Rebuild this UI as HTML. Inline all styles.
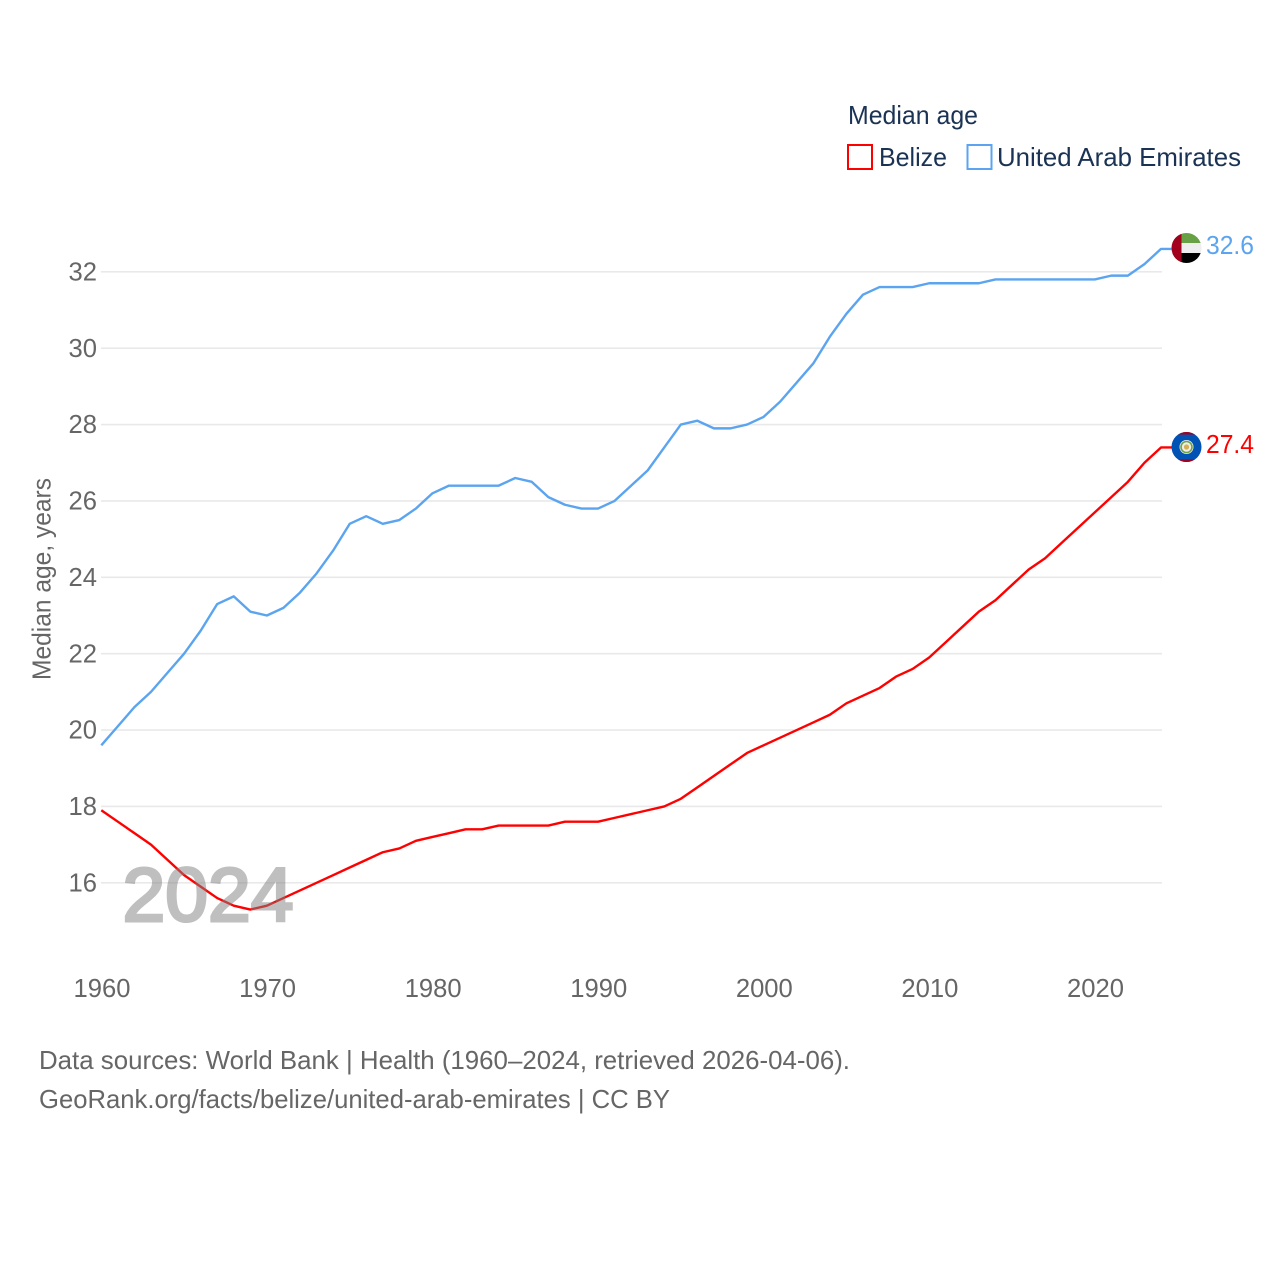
<!DOCTYPE html>
<html lang="en">
<head>
<meta charset="utf-8">
<title>Median age: Belize and United Arab Emirates</title>
<style>
html,body{margin:0;padding:0;background:#fff;width:1280px;height:1280px;overflow:hidden}
svg{display:block}
text{font-family:"Liberation Sans",sans-serif}
</style>
</head>
<body>
<svg id="chart" xmlns="http://www.w3.org/2000/svg" width="1280" height="1280" viewBox="0 0 1280 1280">
  <defs>
    <clipPath id="uae-clip"><circle cx="1186.5" cy="248" r="15"/></clipPath>
    <clipPath id="blz-clip"><circle cx="1186.5" cy="447" r="15"/></clipPath>
  </defs>
  <rect x="0" y="0" width="1280" height="1280" fill="#ffffff"/>
  <g id="grid"></g>
  <g id="yticks"></g>
  <g id="xticks"></g>
  <text transform="translate(50.5,680) rotate(-90)" font-size="25.6" fill="#666666" textLength="202" lengthAdjust="spacingAndGlyphs">Median age, years</text>
  <g id="series"></g>
  <text x="122.5" y="921" font-size="76" fill="#808080" stroke="#808080" stroke-width="3" opacity="0.5" textLength="171" lengthAdjust="spacingAndGlyphs">2024</text>

  <g>
    <text x="848" y="124" font-size="25.6" fill="#1a3254" textLength="130" lengthAdjust="spacingAndGlyphs">Median age</text>
    <g>
      <rect x="848" y="145" width="24" height="24" fill="#ffffff" stroke="#ff0000" stroke-width="2"/>
      <text x="879" y="166" font-size="25.6" fill="#1a3254" textLength="68" lengthAdjust="spacingAndGlyphs">Belize</text>
    </g>
    <g>
      <rect x="967.5" y="145" width="24" height="24" fill="#ffffff" stroke="#5ba4ef" stroke-width="2"/>
      <text x="997" y="166" font-size="25.6" fill="#1a3254" textLength="244" lengthAdjust="spacingAndGlyphs">United Arab Emirates</text>
    </g>
  </g>

  <g clip-path="url(#uae-clip)">
    <rect x="1171" y="233" width="31" height="10" fill="#68a045"/>
    <rect x="1171" y="243" width="31" height="10" fill="#eeeeee"/>
    <rect x="1171" y="253" width="31" height="10" fill="#000000"/>
    <rect x="1171" y="233" width="10.5" height="30" fill="#a2001d"/>
  </g>
  <g clip-path="url(#blz-clip)">
    <rect x="1171" y="432" width="31" height="30" fill="#0052b4"/>
    <rect x="1171" y="432" width="31" height="2.5" fill="#a2001d"/>
    <rect x="1171" y="459.5" width="31" height="2.5" fill="#a2001d"/>
    <circle cx="1186.5" cy="447" r="7" fill="#eeeeee"/>
    <circle cx="1186.5" cy="447" r="5.5" fill="none" stroke="#6da544" stroke-width="1.6"/>
    <circle cx="1186.5" cy="447" r="2.6" fill="#d8b050"/>
  </g>
  <text x="1206" y="254" font-size="25.6" fill="#5ba4ef" textLength="48" lengthAdjust="spacingAndGlyphs">32.6</text>
  <text x="1206" y="453" font-size="25.6" fill="#ff0000" textLength="48" lengthAdjust="spacingAndGlyphs">27.4</text>

  <text x="39" y="1069" font-size="25.6" fill="#666666" textLength="811" lengthAdjust="spacingAndGlyphs">Data sources: World Bank | Health (1960–2024, retrieved 2026-04-06).</text>
  <text x="39" y="1108" font-size="25.6" fill="#666666" textLength="631" lengthAdjust="spacingAndGlyphs">GeoRank.org/facts/belize/united-arab-emirates | CC BY</text>
</svg>
<script>
const startYear = 1960;
const belize = [17.9,17.6,17.3,17.0,16.6,16.2,15.9,15.6,15.4,15.3,15.4,15.6,15.8,16.0,16.2,16.4,16.6,16.8,16.9,17.1,17.2,17.3,17.4,17.4,17.5,17.5,17.5,17.5,17.6,17.6,17.6,17.7,17.8,17.9,18.0,18.2,18.5,18.8,19.1,19.4,19.6,19.8,20.0,20.2,20.4,20.7,20.9,21.1,21.4,21.6,21.9,22.3,22.7,23.1,23.4,23.8,24.2,24.5,24.9,25.3,25.7,26.1,26.5,27.0,27.4];
const uae = [19.6,20.1,20.6,21.0,21.5,22.0,22.6,23.3,23.5,23.1,23.0,23.2,23.6,24.1,24.7,25.4,25.6,25.4,25.5,25.8,26.2,26.4,26.4,26.4,26.4,26.6,26.5,26.1,25.9,25.8,25.8,26.0,26.4,26.8,27.4,28.0,28.1,27.9,27.9,28.0,28.2,28.6,29.1,29.6,30.3,30.9,31.4,31.6,31.6,31.6,31.7,31.7,31.7,31.7,31.8,31.8,31.8,31.8,31.8,31.8,31.8,31.9,31.9,32.2,32.6];
const yTickValues = [16,18,20,22,24,26,28,30,32];
const xTickValues = [1960,1970,1980,1990,2000,2010,2020];

const NS = 'http://www.w3.org/2000/svg';
function xScale(year){ return 101.3 + (year - 1960) * (1161 - 101.3) / 64; }
function yScale(v){ return 882.8 - (v - 16) * (882.8 - 271.8) / 16; }
function make(tag, attrs){
  const el = document.createElementNS(NS, tag);
  for (const k in attrs) el.setAttribute(k, attrs[k]);
  return el;
}

const grid = document.getElementById('grid');
const yticks = document.getElementById('yticks');
const xticks = document.getElementById('xticks');
const seriesGroup = document.getElementById('series');

yTickValues.forEach(function(v){
  const line = make('line', {x1: 101, x2: 1162, y1: yScale(v), y2: yScale(v), stroke: '#e9e9e9', 'stroke-width': 1.6});
  
  
  grid.appendChild(line);
  const t = make('text', {x: 97, y: yScale(v) + 8.6, 'text-anchor': 'end', 'font-size': 25.6, fill: '#666666'});
  
  
  t.textContent = String(v);
  yticks.appendChild(t);
});

xTickValues.forEach(function(y){
  const t = make('text', {x: xScale(y) + 0.7, y: 997, 'text-anchor': 'middle', 'font-size': 25.6, fill: '#666666'});
  
  
  t.textContent = String(y);
  xticks.appendChild(t);
});

function pathFor(values){
  const last = values.length - 1;
  const d = values.map(function(v, i){
    return (i ? 'L' : 'M') + xScale(startYear + i).toFixed(2) + ' ' + yScale(v).toFixed(2);
  }).join(' ');
  return d + ' L1172 ' + yScale(values[last]).toFixed(2);
}

const uaeLine = make('path', {d: pathFor(uae), fill: 'none', stroke: '#5ba4ef', 'stroke-width': 2.4, 'stroke-linejoin': 'round'});


seriesGroup.appendChild(uaeLine);

const belizeLine = make('path', {d: pathFor(belize), fill: 'none', stroke: '#ff0000', 'stroke-width': 2.4, 'stroke-linejoin': 'round'});


seriesGroup.appendChild(belizeLine);
</script>
</body>
</html>
